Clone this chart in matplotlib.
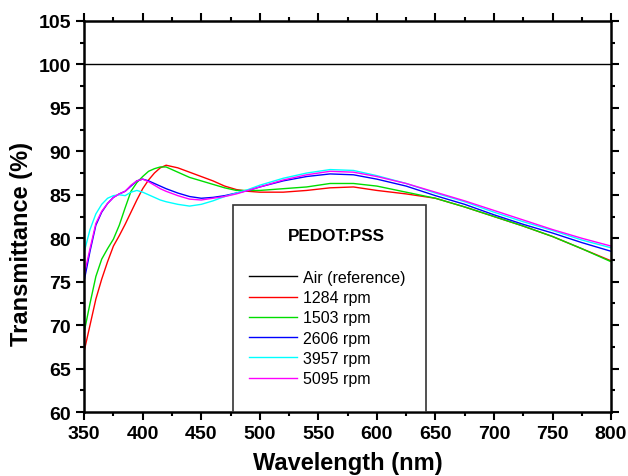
import matplotlib
matplotlib.use("Agg")
import matplotlib.pyplot as plt
from matplotlib.patches import Rectangle
from matplotlib.ticker import MultipleLocator

plt.rcParams['font.family'] = ['Liberation Sans', 'DejaVu Sans']

# wavelength grid (nm)
wl = [350, 355, 360, 365, 370, 375, 380, 385, 390, 395, 400, 405, 410, 415, 420,
      430, 440, 450, 460, 470, 480, 490, 500, 520, 540, 560, 580, 600, 625, 650,
      675, 700, 725, 750, 775, 800]

air = [100.0] * len(wl)
t1284 = [67.0, 70.0, 73.0, 75.3, 77.3, 79.1, 80.3, 81.6, 83.0, 84.4, 85.7, 86.7, 87.5, 88.1, 88.4,
         88.1, 87.6, 87.1, 86.6, 86.0, 85.6, 85.4, 85.3, 85.3, 85.5, 85.8, 85.9, 85.5, 85.1, 84.6,
         83.6, 82.5, 81.4, 80.2, 78.8, 77.4]
t1503 = [69.2, 72.5, 75.6, 77.6, 78.8, 79.9, 81.5, 83.5, 85.4, 86.4, 87.1, 87.7, 88.0, 88.2, 88.2,
         87.6, 87.0, 86.6, 86.2, 85.8, 85.5, 85.5, 85.5, 85.7, 85.9, 86.3, 86.3, 86.0, 85.3, 84.6,
         83.6, 82.5, 81.4, 80.2, 78.8, 77.3]
t2606 = [75.1, 78.5, 81.5, 83.0, 84.0, 84.7, 85.1, 85.4, 86.0, 86.6, 86.8, 86.6, 86.3, 86.0, 85.7,
         85.2, 84.8, 84.6, 84.7, 84.9, 85.2, 85.5, 85.9, 86.6, 87.1, 87.4, 87.3, 86.8, 86.0, 84.9,
         83.9, 82.7, 81.6, 80.6, 79.5, 78.5]
t3957 = [78.4, 81.0, 82.8, 83.9, 84.6, 84.9, 85.0, 84.9, 85.3, 85.5, 85.3, 85.0, 84.7, 84.4, 84.2,
         83.9, 83.7, 83.9, 84.3, 84.8, 85.2, 85.6, 86.1, 86.9, 87.5, 87.9, 87.8, 87.2, 86.3, 85.2,
         84.2, 83.0, 81.9, 80.9, 79.8, 78.9]
t5095 = [75.8, 78.8, 81.7, 83.1, 84.0, 84.7, 85.1, 85.4, 86.1, 86.6, 86.8, 86.5, 86.1, 85.7, 85.4,
         84.9, 84.5, 84.4, 84.6, 84.8, 85.1, 85.5, 85.9, 86.7, 87.3, 87.7, 87.6, 87.1, 86.3, 85.3,
         84.3, 83.2, 82.1, 81.0, 80.0, 79.1]

labels = ['Air (reference)', '1284 rpm', '1503 rpm', '2606 rpm', '3957 rpm', '5095 rpm']
colors = ['black', 'red', '#00dd00', 'blue', 'cyan', 'magenta']
series = [air, t1284, t1503, t2606, t3957, t5095]

fig = plt.figure(figsize=(6.28, 4.77), dpi=100)
ax = fig.add_axes([0.134, 0.134, 0.839, 0.820])

for y, c, lab in zip(series, colors, labels):
    ax.plot(wl, y, color=c, lw=1.0, label=lab)

ax.set_xlim(350, 800)
ax.set_ylim(60, 105)
ax.xaxis.set_major_locator(MultipleLocator(50))
ax.xaxis.set_minor_locator(MultipleLocator(25))
ax.yaxis.set_major_locator(MultipleLocator(5))
ax.yaxis.set_minor_locator(MultipleLocator(2.5))
ax.tick_params(which='both', direction='out', top=True, right=True, width=1.5,
               labeltop=False, labelright=False)
ax.tick_params(which='major', length=6, labelsize=14)
ax.tick_params(which='minor', length=3)
for lbl in ax.get_xticklabels() + ax.get_yticklabels():
    lbl.set_fontweight('bold')
for s in ax.spines.values():
    s.set_linewidth(1.8)

ax.set_xlabel('Wavelength (nm)', fontsize=17, fontweight='bold', labelpad=6)
ax.set_ylabel('Transmittance (%)', fontsize=17, fontweight='bold')
ax.yaxis.set_label_coords(-0.098, 0.432)

# legend box
box = Rectangle((0.282, 0.0), 0.366, 0.53, transform=ax.transAxes, fill=True,
                facecolor='white', edgecolor='#333333', lw=1.2, zorder=3)
ax.add_patch(box)
ax.text(0.479, 0.452, 'PEDOT:PSS', transform=ax.transAxes, ha='center', va='center',
        fontsize=12.3, fontweight='bold', zorder=4)
leg = ax.legend(loc='upper left', bbox_to_anchor=(0.3, 0.38), frameon=False,
                fontsize=11.5, handlelength=3.0, handletextpad=0.4, labelspacing=0.33,
                borderaxespad=0)
leg.set_zorder(5)

fig.savefig('out.png', dpi=100)
